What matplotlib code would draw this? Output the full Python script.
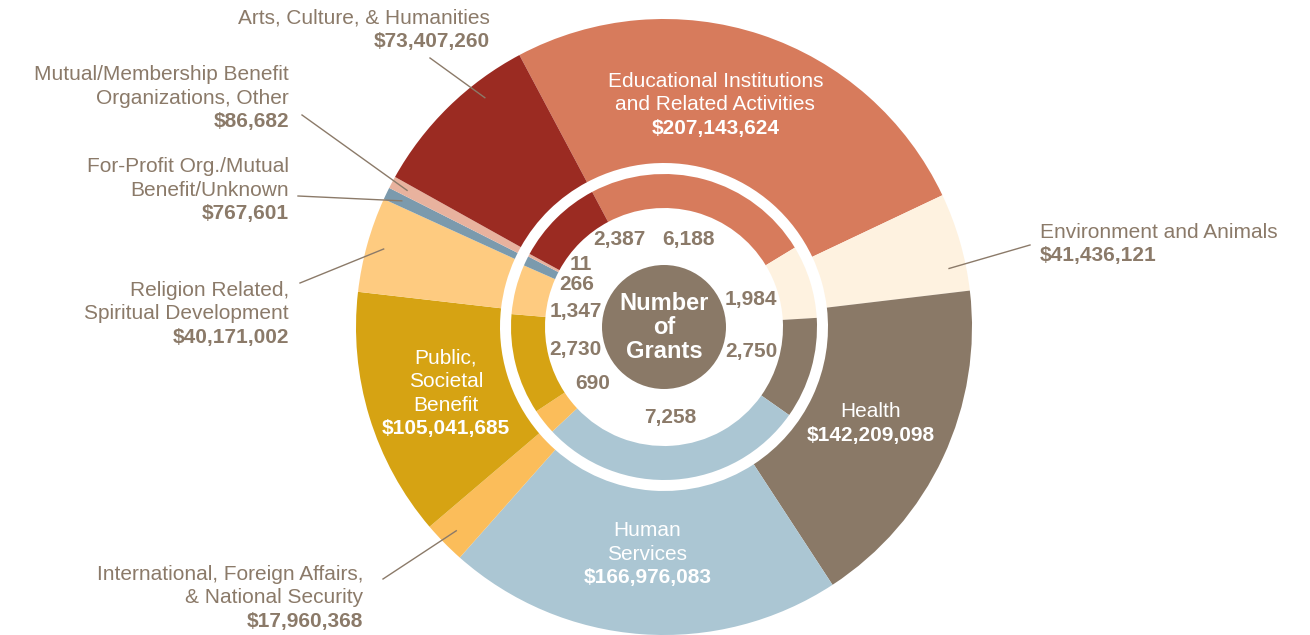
import numpy as np
import matplotlib.pyplot as plt
from matplotlib.patches import Circle

plt.rcParams['font.family'] = ['Liberation Sans', 'DejaVu Sans']

# outer ring: dollars awarded, inner ring: number of grants
categories = ['Educational Institutions\nand Related Activities',
              'Environment and Animals',
              'Health',
              'Human\nServices',
              'International, Foreign Affairs,\n& National Security',
              'Public,\nSocietal\nBenefit',
              'Religion Related,\nSpiritual Development',
              'For-Profit Org./Mutual\nBenefit/Unknown',
              'Mutual/Membership Benefit\nOrganizations, Other',
              'Arts, Culture, & Humanities']
dollars = [207143624, 41436121, 142209098, 166976083, 17960368,
           105041685, 40171002, 767601, 86682, 73407260]
grants = [6188, 1984, 2750, 7258, 690, 2730, 1347, 266, 11, 2387]
colors = ['#d77b5c', '#fef2e0', '#8a7967', '#abc6d3', '#fbbd5a',
          '#d6a313', '#fecb80', '#7b9aad', '#e8b29e', '#9b2b22']

txt = '#8b7a69'
W, H = 1310, 635
cx, cy = 664, H - 327
start = 118
fs = 15
lh = 23.5  # line height in pixels

fig = plt.figure(figsize=(13.1, 6.35), dpi=100)
ax = fig.add_axes([0, 0, 1, 1])

# tiny slices get a minimum visible width, like in the original graphic
d_show = np.maximum(dollars, sum(dollars) * 0.0065)
g_show = np.maximum(grants, sum(grants) * 0.003)

ax.pie(d_show, colors=colors, radius=308, center=(cx, cy), startangle=start,
       counterclock=False, wedgeprops=dict(width=144, linewidth=0))
ax.pie(g_show, colors=colors, radius=153, center=(cx, cy), startangle=start,
       counterclock=False, wedgeprops=dict(width=34, linewidth=0))
ax.add_patch(Circle((cx, cy), 62, color='#8a7967', lw=0))
for k, w in enumerate(['Number', 'of', 'Grants']):
    ax.text(cx, cy + 24 * (1 - k), w, color='white', fontsize=17,
            fontweight='bold', ha='center', va='center')


def mid_angles(vals):
    v = np.asarray(vals, float)
    c = np.cumsum(v) - v / 2
    return start - 360 * c / v.sum()


def pt(ang, r):
    a = np.radians(ang)
    return cx + r * np.cos(a), cy + r * np.sin(a)


def block(x, y_last, name, value, color, ha):
    # name lines stacked above the bold value line
    lines = name.split('\n')
    n = len(lines)
    for k, s in enumerate(lines):
        ax.text(x, y_last + lh * (n - k), s, color=color, fontsize=fs, ha=ha,
                va='center')
    ax.text(x, y_last, value, color=color, fontsize=fs, fontweight='bold',
            ha=ha, va='center')


d_ang = mid_angles(d_show)
g_ang = mid_angles(g_show)

# labels inside the outer ring (angle override for the first one)
inside = {0: 77, 2: None, 3: None, 5: None}
for i, a in inside.items():
    x, y = pt(d_ang[i] if a is None else a, 228)
    n = categories[i].count('\n') + 1
    block(x, y - lh * n / 2, categories[i], '${:,}'.format(dollars[i]),
          'white', 'center')

# labels outside, with leader lines:
# (value line x, y in pixels, ha, line start in pixels, leader angle)
outside = {
    9: (490, 41, 'right', (430, 58), 128),
    8: (289, 122, 'right', (302, 115), None),
    7: (289, 214, 'right', (298, 196), None),
    6: (289, 337, 'right', (300, 283), None),
    4: (363, 621, 'right', (383, 579), None),
    1: (1040, 256, 'left', (1030, 245), 11.6),
}
for i, (x, yp, ha, (lx, ly), la) in outside.items():
    block(x, H - yp, categories[i], '${:,}'.format(dollars[i]), txt, ha)
    ex, ey = pt(d_ang[i] if la is None else la, 291)
    ax.plot([lx, ex], [H - ly, ey], color=txt, lw=1)

# grant counts inside the inner ring
g_pos = {8: (143, 104), 9: (117, 98), 7: (154, 97), 6: (170, 90)}
for i, g in enumerate(grants):
    a, r = g_pos.get(i, (g_ang[i], 91))
    x, y = pt(a, r)
    ax.text(x, y, '{:,}'.format(g), color=txt, fontsize=fs, fontweight='bold',
            ha='center', va='center')

ax.set_xlim(0, W)
ax.set_ylim(0, H)
ax.set_aspect('equal')
ax.axis('off')
fig.savefig('out.png', dpi=100, facecolor='white')
